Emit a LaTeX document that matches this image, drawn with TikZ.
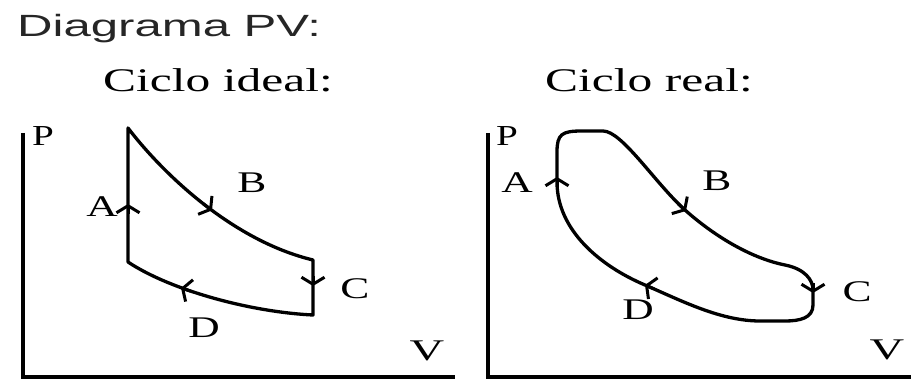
\documentclass[tikz,border=0pt]{standalone}
\usepackage{fontspec}
\usepackage{graphicx}
\setmainfont{Liberation Serif}
\newfontfamily\titlefont{Liberation Sans}
\usetikzlibrary{arrows.meta}
\newcommand{\stretchtxt}[2][1.45]{\scalebox{#1}[1]{#2}}
\begin{document}
\begin{tikzpicture}[x=1pt,y=-1pt,
  curve/.style={line width=3.3pt,line join=round,line cap=round},
  axis/.style={line width=3.4pt},
  tickarrow/.style={-{Straight Barb[length=7pt,width=23pt]},line width=3pt},
  lbl/.style={font=\fontsize{30}{30}\selectfont,inner sep=0pt},
  axlbl/.style={font=\fontsize{29}{29}\selectfont,inner sep=0pt},
  ttl/.style={font=\fontsize{33}{33}\selectfont,inner sep=0pt,anchor=base west}]
\useasboundingbox (0,0) rectangle (911,385);
% titles
\node[font=\titlefont\fontsize{30.7}{31}\selectfont,inner sep=0pt,anchor=base west,text=black!85] (title) at (17,37) {\stretchtxt[1.6]{Diagrama PV:}};
\node[ttl] (tideal) at (103,92) {\stretchtxt[1.5]{Ciclo ideal:}};
\node[ttl] (treal) at (545,92) {\stretchtxt[1.5]{Ciclo real:}};
% ---- ideal cycle ----
\draw[axis] (23,133) -- (23,377) -- (455,377);
\node[axlbl] (pI) at (43,136) {\stretchtxt[1.35]{P}};
\node[lbl] (vI) at (427,351) {\stretchtxt[1.6]{V}};
\draw[curve] (128,262) -- (128,128)
  .. controls (160,170) and (230,240) .. (313,260)
  -- (313,315)
  .. controls (250,312) and (170,290) .. cycle;
\draw[tickarrow] (128,214) -- (128,204);
\draw[tickarrow] (203,203.6) -- (212,210.4);
\draw[tickarrow] (313,276) -- (313,286);
\draw[tickarrow] (191,291.3) -- (181,287.9);
\node[lbl] (aI) at (102,207) {\stretchtxt{A}};
\node[lbl] (bI) at (252,183) {\stretchtxt{B}};
\node[lbl] (cI) at (355,289) {\stretchtxt{C}};
\node[lbl] (dI) at (204,328) {\stretchtxt{D}};
% ---- real cycle ----
\draw[axis] (488,133) -- (488,377) -- (911,377);
\node[axlbl] (pR) at (507,136) {\stretchtxt[1.35]{P}};
\node[lbl] (vR) at (887,350) {\stretchtxt[1.6]{V}};
\draw[curve] (557,182) -- (557,152)
  .. controls (557,134) and (562,131) .. (582,131) -- (603,131)
  .. controls (622,131) and (655,183) .. (685,210)
  .. controls (713,235) and (750,258) .. (785,265)
  .. controls (805,269) and (813,280) .. (813,290)
  -- (813,305)
  .. controls (813,318) and (800,321) .. (785,321) -- (760,321)
  .. controls (720,321) and (680,300) .. (645,285)
  .. controls (600,266) and (557,230) .. cycle;
\draw[tickarrow] (557,187) -- (557,177);
\draw[tickarrow] (678,203.7) -- (686,211);
\draw[tickarrow] (813,283) -- (813,293);
\draw[tickarrow] (654,288.9) -- (645,285);
\node[lbl] (aR) at (517,183) {\stretchtxt{A}};
\node[lbl] (bR) at (717,181) {\stretchtxt{B}};
\node[lbl] (cR) at (857,292) {\stretchtxt{C}};
\node[lbl] (dR) at (638,310) {\stretchtxt{D}};
\end{tikzpicture}
\end{document}
